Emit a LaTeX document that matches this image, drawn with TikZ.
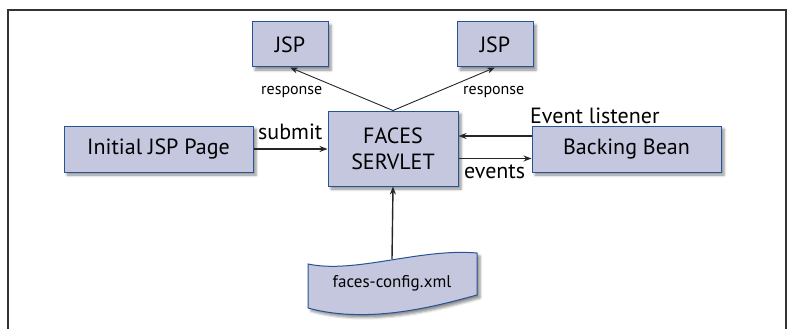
\documentclass[tikz,border=0pt]{standalone}
\usepackage{fontspec}
\setmainfont{PT Sans}
\usetikzlibrary{shadows.blur,arrows.meta}
\definecolor{boxfill}{RGB}{197,199,222}
\definecolor{boxline}{RGB}{38,82,150}
\tikzset{
  box/.style={draw=boxline, fill=boxfill, line width=1pt, inner sep=0pt,
    blur shadow={shadow xshift=3pt, shadow yshift=-3pt, shadow blur radius=2.5pt, shadow opacity=45},
    font=\fontsize{22}{26}\selectfont},
  flow/.style={-{Stealth[length=8pt,width=6pt]}, line width=1.4pt, black!85},
  thin flow/.style={-{Stealth[length=8pt,width=6pt]}, line width=0.9pt, black!85},
  tag/.style={font=\fontsize{22}{26}\selectfont, inner sep=0pt},
  small tag/.style={font=\fontsize{16}{19}\selectfont, inner sep=0pt}
}

\begin{document}
\begin{tikzpicture}[x=1pt,y=-1pt]
\useasboundingbox (0,0) rectangle (792,329);
\draw [line width=1.2pt, black!80] (8,329) -- (8,10) -- (786,10) -- (786,329);
\node [box, minimum width=76pt, minimum height=45pt] (jsp left) at (290,44.5) {JSP};
\node [box, minimum width=76pt, minimum height=45pt] (jsp right) at (495,44.5) {JSP};
\node [box, minimum width=189pt, minimum height=46pt] (initial) at (158.5,149) {Initial JSP Page};
\node [box, minimum width=130pt, minimum height=75pt, align=center] (faces) at (393,148.5) {FACES\\SERVLET};
\node [box, minimum width=189pt, minimum height=46pt] (backing) at (626.5,149) {Backing Bean};
\path [box] (308,264) .. controls (355,274) and (420,248) .. (477,253) -- (477,295)
  .. controls (440,305) and (370,325) .. (308,308) -- cycle;
\node [font=\fontsize{17}{20}\selectfont, inner sep=0pt] (config) at (392,283) {faces-config.xml};
\coordinate (config top) at (392,259);
\coordinate (listen end) at ([yshift=13pt]backing.west);
\coordinate (event end) at ([yshift=-9.5pt]backing.west);
\draw [flow] (initial.east) -- (faces.west |- initial.east);
\draw [flow] (listen end) -- (faces.east |- listen end);
\draw [flow] (faces.east |- event end) -- (event end);
\draw [flow] (config top) -- (faces.south);
\draw [thin flow] (faces.north) -- (jsp left.south);
\draw [thin flow] (faces.north) -- (jsp right.south);
\node [tag, anchor=base west] (submit) at (258,139) {submit};
\node [tag, anchor=base west] (listener) at (530,123) {Event listener};
\node [tag, anchor=base west] (events) at (464,178) {events};
\node [small tag, anchor=base west] (resp left) at (261,94) {response};
\node [small tag, anchor=base west] (resp right) at (463,94) {response};
\end{tikzpicture}
\end{document}
